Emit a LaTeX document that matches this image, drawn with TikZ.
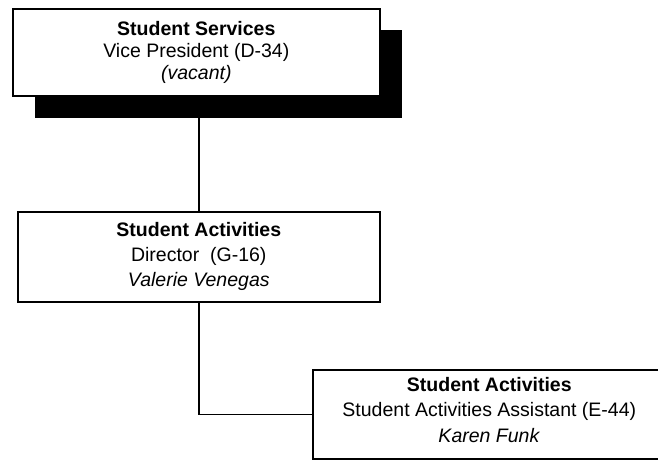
\documentclass[tikz,border=0pt]{standalone}
\usepackage{fontspec}
\setmainfont{Liberation Sans}
\begin{document}
\begin{tikzpicture}[x=1pt,y=-1pt,
  box/.style={draw=black, line width=1.6pt, fill=white, rectangle, inner sep=0pt, align=center, anchor=north west},
  shadowbox/.style={fill=black, rectangle, inner sep=0pt, anchor=north west},
  conn/.style={draw=black, line width=1.6pt}]
\useasboundingbox (0,0) rectangle (658,459);
\node[shadowbox, minimum width=367pt, minimum height=88pt] (shadow) at (35,30) {};
\node[box, minimum width=367pt, minimum height=87pt, font=\fontsize{19.5}{21.8}\selectfont] (vp) at (12,8)
  {\textbf{Student Services}\\Vice President (D-34)\\\textit{(vacant)}};
\node[box, minimum width=362pt, minimum height=90pt, font=\fontsize{19.5}{25}\selectfont] (dir) at (17,211)
  {\textbf{Student Activities}\\Director\ \ (G-16)\\\textit{Valerie Venegas}};
\node[box, minimum width=353pt, minimum height=89pt, font=\fontsize{19.5}{25.5}\selectfont] (asst) at (312,369)
  {\textbf{Student Activities}\\Student Activities Assistant (E-44)\\\textit{Karen Funk}\rule[-9pt]{0pt}{0pt}};
\draw[conn] (dir.north) -- (dir.north |- shadow.south);
\draw[conn] (dir.south) |- (asst.west);
\end{tikzpicture}
\end{document}
